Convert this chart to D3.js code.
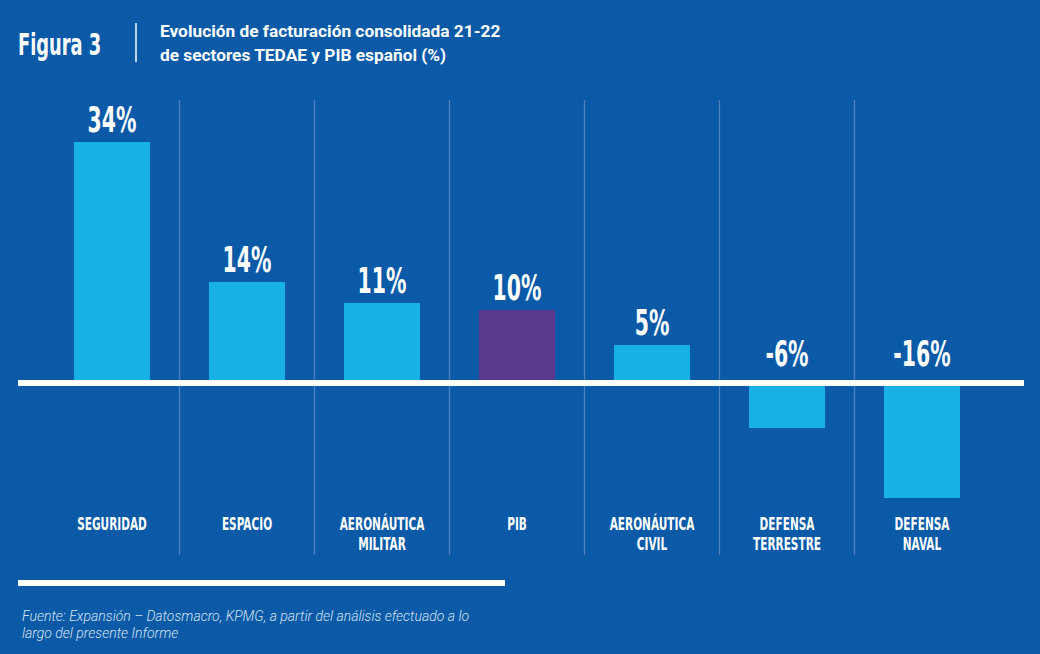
<!DOCTYPE html>
<html><head><meta charset="utf-8">
<script src="https://cdn.jsdelivr.net/npm/d3@7"></script>
<style>
html,body{margin:0;padding:0;background:#0a5aa8;}
svg{display:block;}
</style></head>
<body>
<svg id="c" width="1040" height="654"></svg>
<script>
const categories = ["SEGURIDAD","ESPACIO","AERONÁUTICA MILITAR","PIB","AERONÁUTICA CIVIL","DEFENSA TERRESTRE","DEFENSA NAVAL"];
const categoryLines = [["SEGURIDAD"],["ESPACIO"],["AERONÁUTICA","MILITAR"],["PIB"],["AERONÁUTICA","CIVIL"],["DEFENSA","TERRESTRE"],["DEFENSA","NAVAL"]];
const values = [34,14,11,10,5,-6,-16];
const valueLabels = ["34%","14%","11%","10%","5%","-6%","-16%"];
const highlight = ["PIB"];
const titleLines = ["Evolución de facturación consolidada 21-22","de sectores TEDAE y PIB español (%)"];
const figLabel = "Figura 3";
const sourceLines = ["Fuente: Expansión – Datosmacro, KPMG, a partir del análisis efectuado a lo","largo del presente Informe"];

const BG="#0a5aa8", BAR="#18b1e6", HI="#5a3a8c", DIV="#4f82bd";
const COND = "'DejaVu Sans Condensed','Liberation Sans Narrow',sans-serif";
const svg = d3.select("#c");
svg.append("rect").attr("width",1040).attr("height",654).attr("fill",BG);

const x = d3.scaleBand().domain(categories).range([44.5, 989.5]).padding(0);
const barW = x.bandwidth()*0.563;
const y = d3.scaleLinear().domain([0,34]).range([380,142]);
const lineH = 6;
const pxPer = y(0)-y(1);

// dividers
svg.append("g").selectAll("line").data(categories.slice(1)).join("line")
  .attr("x1",d=>x(d)).attr("x2",d=>x(d)).attr("y1",100).attr("y2",555)
  .attr("stroke",DIV).attr("stroke-width",1.3);

// bars
svg.append("g").selectAll("rect").data(values).join("rect")
  .attr("x",(d,i)=>x(categories[i])+x.bandwidth()/2-barW/2)
  .attr("width",barW)
  .attr("y",d=> d>=0 ? y(d) : y(0)+lineH)
  .attr("height",d=> d>=0 ? y(0)-y(d) : (-d)*pxPer)
  .attr("fill",(d,i)=>highlight.includes(categories[i])?HI:BAR);

// zero line
svg.append("rect").attr("x",18).attr("y",y(0)).attr("width",1024-18).attr("height",lineH).attr("fill","#fff");

function condText(g, str, cx, by, size, sx){
  g.append("text").attr("transform",`translate(${cx},${by}) scale(${sx},1)`)
   .attr("text-anchor","middle").attr("font-family",COND).attr("font-weight","bold")
   .attr("font-size",size).attr("fill","#fff").text(str);
}

// value labels
const vl = svg.append("g");
values.forEach((v,i)=>{
  const cx = x(categories[i])+x.bandwidth()/2;
  const by = v>=0 ? y(v)-10 : y(0)-14;
  condText(vl, valueLabels[i], cx, by, 36, 0.63);
});

// category labels
const cl = svg.append("g");
categoryLines.forEach((ls,i)=>{
  const cx = x(categories[i])+x.bandwidth()/2;
  ls.forEach((t,j)=>condText(cl,t,cx,530+j*20,17,0.69));
});

// header
svg.append("text").attr("transform","translate(18,55) scale(0.64,1)")
  .attr("font-family",COND).attr("font-weight","bold").attr("font-size",31).attr("fill","#fff").text(figLabel);
svg.append("line").attr("x1",136).attr("x2",136).attr("y1",23).attr("y2",62).attr("stroke","#fff").attr("stroke-width",1.5);
titleLines.forEach((t,i)=>svg.append("text").attr("x",160).attr("y",37+i*24)
  .attr("font-family","Roboto, sans-serif").attr("font-weight","bold").attr("font-size",17.3).attr("fill","#fff").text(t));

// bottom rule
svg.append("rect").attr("x",18).attr("y",580).attr("width",487).attr("height",6).attr("fill","#fff");

// source
sourceLines.forEach((t,i)=>svg.append("text").attr("x",22).attr("y",621+i*17)
  .attr("font-family","Roboto, sans-serif").attr("font-style","italic").attr("font-weight",300)
  .attr("font-size",14).attr("fill","#d6e2f1").text(t));
</script>
</body></html>
